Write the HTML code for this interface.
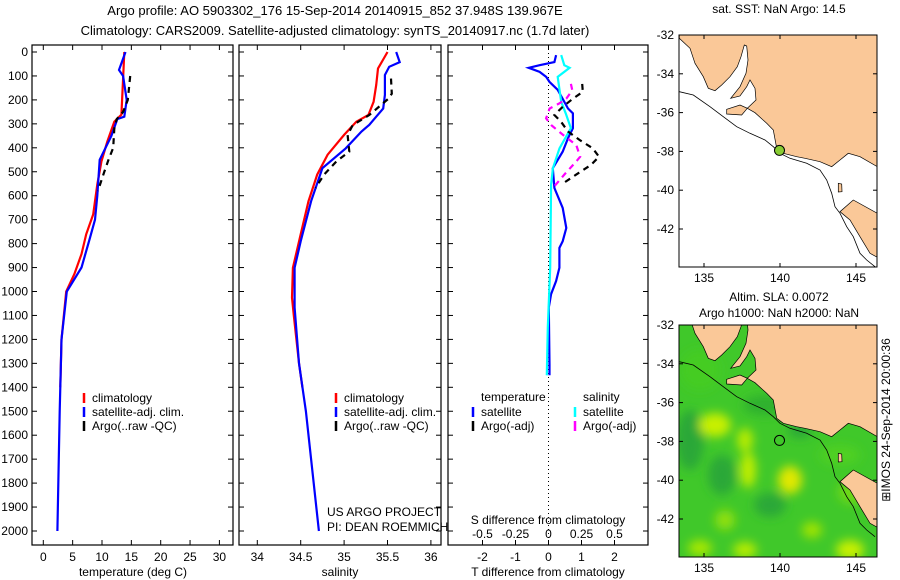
<!DOCTYPE html>
<html><head><meta charset="utf-8"><style>
html,body{margin:0;padding:0;background:#fff;}
svg{display:block;font-family:"Liberation Sans",sans-serif;}
text{font-size:12px;fill:#000;}
</style></head><body>
<svg id="fig" width="900" height="580" viewBox="0 0 900 580" xmlns="http://www.w3.org/2000/svg">
<text x="335" y="15" text-anchor="middle" style="font-size:13px">Argo profile: AO 5903302_176 15-Sep-2014 20140915_852 37.948S 139.967E</text>
<text x="335" y="35" text-anchor="middle" style="font-size:13px">Climatology: CARS2009. Satellite-adjusted climatology: synTS_20140917.nc (1.7d later)</text>
<g id="p1"></g>
<g id="p2"></g>
<g id="p3"></g>
<g id="m1"></g>
<g id="m2"></g>
<text transform="translate(890,420) rotate(-90)" text-anchor="middle">⊞IMOS 24-Sep-2014 20:00:36</text>
</svg>
<script>
// ---- data ----
const climTDepth = [0,111,262,291,374,457,553,678,761,844,927,1000,1200,1400];
const climT = [13.8,13.6,13.3,12.1,10.9,9.9,9.2,8.5,7.3,6.5,5.3,3.9,3.1,2.9];
const satTDepth = [0,75,100,200,270,280,350,450,600,700,780,900,1000,1200,1500,2000];
const satT = [14.0,12.9,13.6,14.2,13.8,12.6,11.6,9.6,9.2,8.8,7.9,6.5,4.0,3.1,2.8,2.4];
const argoTDepth = [100,200,250,280,320,400,450,500,580];
const argoT = [14.8,14.4,13.6,12.5,12.1,11.9,11.1,10.4,9.3];
const climSDepth = [0,69,138,208,263,291,346,429,512,623,761,901,1026,1100,1300,1400];
const climS = [35.50,35.39,35.37,35.34,35.28,35.14,35.0,34.81,34.69,34.59,34.50,34.41,34.40,34.42,34.48,34.52];
const satSDepth = [0,42,62,96,179,236,270,304,332,402,485,623,790,901,1067,1300,1500,1800,2000];
const satS = [35.60,35.64,35.52,35.47,35.47,35.45,35.37,35.29,35.2,35.02,34.75,34.62,34.5,34.43,34.43,34.48,34.56,34.65,34.71];
const argoSDepth = [111,174,195,263,305,346,416,457,512,568];
const argoS = [35.54,35.55,35.51,35.29,35.10,35.04,35.06,34.91,34.77,34.67];
const dTsatDepth = [13,42,55,66,83,104,125,158,236,256,318,360,416,485,568,651,735,790,818,901,956,1011,1067,1303,1350];
const dTsat = [0.23,0.18,-0.27,-0.6,-0.27,-0.07,0.03,0.28,0.59,0.74,0.74,0.59,0.43,0.13,0.18,0.43,0.54,0.43,0.33,0.33,0.23,0.08,0.01,0.03,0.03];
const dSsatDepth = [13,55,66,104,208,256,318,402,485,554,900,1150,1350];
const dSsat = [0.096,0.12,0.16,0.07,0.096,0.13,0.17,0.083,0.033,0.02,0.013,-0.005,-0.013];
const dTargoDepth = [133,166,195,229,263,291,332,367,402,437,471,512,554];
const dTargo = [1.02,1.04,0.74,0.43,0.18,0.38,0.59,0.94,1.34,1.53,1.29,0.84,0.38];
const dSargoDepth = [133,160,195,215,236,277,305,346,388,437,457,512,568];
const dSargo = [0.17,0.18,0.135,0.08,0.008,-0.018,0.02,0.11,0.21,0.24,0.21,0.12,0.033];
const depthTicks = [0,100,200,300,400,500,600,700,800,900,1000,1100,1200,1300,1400,1500,1600,1700,1800,1900,2000];
const tTicks = [0,5,10,15,20,25,30];
const sTicks = [34,34.5,35,35.5,36];
const sTickLabels = ["34","34.5","35","35.5","36"];
const dTTicks = [-2,-1,0,1,2];
const dSTicks = [-0.5,-0.25,0,0.25,0.5];
const dSTickLabels = ["-0.5","-0.25","0","0.25","0.5"];
const lonTicks = [135,140,145];
const latTicks = [-32,-34,-36,-38,-40,-42];
const argoLon = [139.967];
const argoLat = [-37.948];

const NS='http://www.w3.org/2000/svg';
function mk(parent,tag,attrs,txt){const e=document.createElementNS(NS,tag);for(const k in attrs)e.setAttribute(k,attrs[k]);if(txt!==undefined)e.textContent=txt;parent.appendChild(e);return e;}
const yD=d=>52+d*0.2395;
const Y0=52,Y1=545;

function frame(g,x0,x1,labelsLeft){
  const r=mk(g,'rect',{x:x0,y:Y0-7,width:x1-x0,height:Y1-Y0+7,fill:'none',stroke:'#000','stroke-width':1.2});
  
  
  depthTicks.forEach(d=>{
    mk(g,'line',{x1:x0,x2:x0+5,y1:yD(d),y2:yD(d),stroke:'#000'});
    mk(g,'line',{x1:x1,x2:x1-5,y1:yD(d),y2:yD(d),stroke:'#000'});
    if(labelsLeft){const t=mk(g,'text',{x:x0-4,y:yD(d)+4,'text-anchor':'end'},String(d));
      
      }
  });
}
function line(g,xs,ds,fx,color,w,dash,name){
  const pts=xs.map((v,i)=>fx(v).toFixed(1)+','+yD(ds[i]).toFixed(1)).join(' ');
  const p=mk(g,'polyline',{points:pts,fill:'none',stroke:color,'stroke-width':w,'stroke-dasharray':dash||'none'});
  
  
}
function xticks(g,ticks,labels,fx,y){
  ticks.forEach((t,i)=>{const x=fx(t);
    mk(g,'line',{x1:x,x2:x,y1:Y1,y2:Y1-5,stroke:'#000'});
    mk(g,'line',{x1:x,x2:x,y1:Y0-7,y2:Y0-2,stroke:'#000'});
    if(labels){const tx=mk(g,'text',{x:x,y:y,'text-anchor':'middle'},labels[i]);
      
      }
  });
}
function legend(g,x,y,items){
  items.forEach((it,i)=>{
    mk(g,'line',{x1:x,x2:x,y1:y+i*14-6,y2:y+i*14+4,stroke:it[1],'stroke-width':2.5});
    const t=mk(g,'text',{x:x+8,y:y+i*14+3},it[0]);
    
    
  });
}
// panel 1
const p1=document.getElementById('p1');
const fT=t=>43.3+t*5.87;
frame(p1,32,233,true);
xticks(p1,tTicks,tTicks.map(String),fT,561);
line(p1,climT,climTDepth,fT,'#f00',2.2,null,'climatology-temp-line');
line(p1,satT,satTDepth,fT,'#00f',2.2,null,'satellite-temp-line');
line(p1,argoT,argoTDepth,fT,'#000',2.2,'6,5','argo-temp-line');
legend(p1,84,399,[['climatology','#f00'],['satellite-adj. clim.','#00f'],['Argo(..raw -QC)','#000']]);
mk(p1,'text',{x:133,y:576,'text-anchor':'middle',},'temperature (deg C)');
// panel 2
const p2=document.getElementById('p2');
const fS=s=>257.3+(s-34)*86.8;
frame(p2,239,441,false);
xticks(p2,sTicks,sTickLabels,fS,561);
line(p2,climS,climSDepth,fS,'#f00',2.2,null,'climatology-sal-line');
line(p2,satS,satSDepth,fS,'#00f',2.2,null,'satellite-sal-line');
line(p2,argoS,argoSDepth,fS,'#000',2.2,'6,5','argo-sal-line');
legend(p2,336,399,[['climatology','#f00'],['satellite-adj. clim.','#00f'],['Argo(..raw -QC)','#000']]);
mk(p2,'text',{x:327,y:516,},'US ARGO PROJECT');
mk(p2,'text',{x:327,y:531,},'PI: DEAN ROEMMICH');
mk(p2,'text',{x:340,y:576,'text-anchor':'middle',},'salinity');
// panel 3
const p3=document.getElementById('p3');
const fdT=t=>548.5+t*33;
const fdS=s=>548.5+s*132;
frame(p3,448,648,false);
xticks(p3,dTTicks,dTTicks.map(String),fdT,561);
dSTicks.forEach((s,i)=>{const t=mk(p3,'text',{x:fdS(s),y:538,'text-anchor':'middle'},dSTickLabels[i]);
  
  });
mk(p3,'line',{x1:fdT(0),x2:fdT(0),y1:Y0-7,y2:Y1,stroke:'#000','stroke-dasharray':'1,3'});
line(p3,dTsat,dTsatDepth,fdT,'#00f',2.2,null,'satellite-temp-diff-line');
line(p3,dSsat,dSsatDepth,fdS,'#0ff',2.2,null,'satellite-sal-diff-line');
line(p3,dTargo,dTargoDepth,fdT,'#000',2.2,'6,5','argo-temp-diff-line');
line(p3,dSargo,dSargoDepth,fdS,'#f0f',2.2,'6,5','argo-sal-diff-line');
mk(p3,'text',{x:481,y:401},'temperature');
mk(p3,'text',{x:583,y:401},'salinity');
legend(p3,473,413,[['satellite','#00f'],['Argo(-adj)','#000']]);
legend(p3,575,413,[['satellite','#0ff'],['Argo(-adj)','#f0f']]);
mk(p3,'text',{x:548,y:524,'text-anchor':'middle',},'S difference from climatology');
mk(p3,'text',{x:548,y:576,'text-anchor':'middle',},'T difference from climatology');

// maps (outline geometry in zoomed-reference pixel units)
const land=[[118,44],[118,55],[150,85],[165,130],[190,170],[205,205],[225,212],[245,195],[270,170],[292,140],[303,110],[313,75],[320,78],[324,120],[318,160],[300,200],[272,235],[300,228],[320,200],[330,180],[345,205],[348,240],[322,265],[345,278],[380,310],[400,330],[410,385],[430,400],[470,410],[495,415],[540,425],[575,440],[600,420],[625,400],[660,410],[712,440],[712,44]];
const kangaroo=[[260,268],[300,255],[322,265],[305,285],[260,282]];
const tas=[[600,575],[640,540],[712,580],[712,712],[690,700],[660,650],[630,600]];
const king=[[595,490],[605,492],[606,515],[595,516]];
const contour=[[118,215],[160,225],[210,260],[250,290],[290,320],[330,340],[375,360],[400,380],[420,400],[450,415],[500,430],[540,450],[560,480],[575,520],[585,560],[600,580],[620,620],[640,650],[660,700],[680,720],[705,740]];
function mapPts(arr,oy){return arr.map(p=>(p[0]/3+640).toFixed(1)+','+(p[1]/3+oy).toFixed(1)).join(' ');}
function drawMap(g,oy,top,field){
  const x0=679,x1=877,y0=top,y1=top+232;
  const fx=l=>704+(l-135)*15.2;
  const cp='clip'+top;
  const defs=mk(g,'defs',{});
  const c=mk(defs,'clipPath',{id:cp});mk(c,'rect',{x:x0,y:y0,width:x1-x0,height:y1-y0});
  const inner=mk(g,'g',{'clip-path':'url(#'+cp+')'});
  if(field){
    const f=mk(defs,'filter',{id:'bl',x:'-50%',y:'-50%',width:'200%',height:'200%'});mk(f,'feGaussianBlur',{stdDeviation:5});
    mk(inner,'rect',{x:x0,y:y0,width:x1-x0,height:y1-y0,fill:'#40c82a'});
    const fg=mk(inner,'g',{filter:'url(#bl)'});
    [[690,440,14,30,'#2aa838'],[715,425,16,12,'#c8f000'],[745,440,8,12,'#b8ec00'],[748,470,8,18,'#c0ee00'],[790,480,12,14,'#e0e800'],[722,475,14,20,'#2aa838'],[770,505,16,12,'#2aa838'],[700,548,12,8,'#a8e800'],[745,550,12,8,'#b8ec00'],[850,550,14,10,'#c8f000'],[812,530,10,8,'#a0e400'],[765,405,22,10,'#2fb02e'],[852,492,14,12,'#6ed816'],[725,520,10,10,'#90e008'],[800,430,12,8,'#2aa838'],[840,455,20,10,'#50d020'],[700,370,20,20,'#44cc22']].forEach(e=>mk(fg,'ellipse',{cx:e[0],cy:e[1],rx:e[2],ry:e[3],fill:e[4]}));
  } else mk(inner,'rect',{x:x0,y:y0,width:x1-x0,height:y1-y0,fill:'#fff'});
  [land,kangaroo,tas,king].forEach(a=>mk(inner,'polygon',{points:mapPts(a,oy),fill:'#fac898',stroke:'#000','stroke-width':0.7}));
  mk(inner,'polyline',{points:mapPts(contour,oy),fill:'none',stroke:'#000','stroke-width':0.8});
  mk(g,'rect',{x:x0,y:y0,width:x1-x0,height:y1-y0,fill:'none',stroke:'#000'});
  lonTicks.forEach(l=>{const x=fx(l);mk(g,'line',{x1:x,x2:x,y1:y1,y2:y1-4,stroke:'#000'});mk(g,'line',{x1:x,x2:x,y1:y0,y2:y0+4,stroke:'#000'});
    const t=mk(g,'text',{x:x,y:y1+15,'text-anchor':'middle'},String(l));
    
    });
  latTicks.forEach(l=>{const y=top+(-32-l)*19.4;mk(g,'line',{x1:x0,x2:x0+4,y1:y,y2:y,stroke:'#000'});mk(g,'line',{x1:x1,x2:x1-4,y1:y,y2:y,stroke:'#000'});
    const t=mk(g,'text',{x:x0-5,y:y+4,'text-anchor':'end'},String(l));
    
    });
  argoLon.forEach((lo,i)=>{const m=mk(g,'circle',{cx:fx(lo),cy:top+(-32-argoLat[i])*19.4,r:5,fill:field?'none':'#8c3',stroke:'#000','stroke-width':1});
    
    });
}
const m1=document.getElementById('m1');
drawMap(m1,20,35,false);
mk(m1,'text',{x:779,y:13,'text-anchor':'middle',},'sat. SST: NaN Argo: 14.5');
const m2=document.getElementById('m2');
drawMap(m2,290,325,true);
mk(m2,'text',{x:779,y:301,'text-anchor':'middle',},'Altim. SLA: 0.0072');
mk(m2,'text',{x:779,y:317,'text-anchor':'middle',},'Argo h1000: NaN h2000: NaN');
</script>
</body></html>
